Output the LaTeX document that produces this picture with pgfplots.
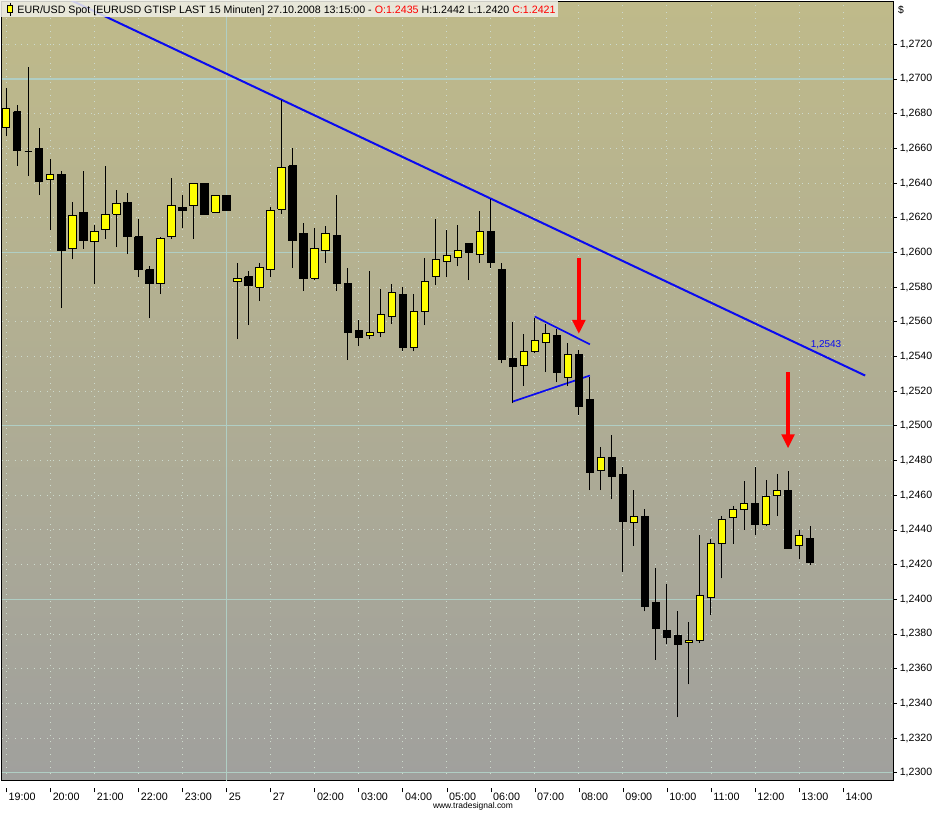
\documentclass[border=0pt]{standalone}
\usepackage{pgfplots}
\pgfplotsset{compat=1.18}
\usetikzlibrary{arrows.meta}
\usepackage{fontspec}
\setmainfont{Liberation Sans}
\definecolor{bgtop}{RGB}{191,186,138}
\definecolor{bgbot}{RGB}{160,160,157}
\definecolor{gridc}{RGB}{176,206,196}
\definecolor{dotc}{RGB}{205,218,205}
\definecolor{candleY}{RGB}{255,255,0}
\definecolor{hdr}{RGB}{240,240,232}
\definecolor{tlblue}{RGB}{10,10,240}
% index, open, high, low, close, fill
\newcommand{\cdl}[6]{%
  \pgfmathsetmacro\xa{#1-0.33}\pgfmathsetmacro\xb{#1+0.33}%
  \edef\tmp{\noexpand\addplot[draw=black, line width=1bp, forget plot] coordinates {(#1,#4) (#1,#3)};
  \noexpand\addplot[draw=black, fill=#6, line width=1bp, forget plot] coordinates {(\xa,#2) (\xb,#2) (\xb,#5) (\xa,#5) (\xa,#2)};}%
  \tmp}
\newcommand{\up}[5]{\cdl{#1}{#2}{#3}{#4}{#5}{candleY}}
\newcommand{\dn}[5]{\cdl{#1}{#2}{#3}{#4}{#5}{black}}
\newcommand{\xl}[1]{\rlap{\rule[8.5bp]{0.8bp}{4bp}}\hspace{2.6bp}#1}
\begin{document}
\begin{tikzpicture}
\useasboundingbox (0,0) rectangle (947bp,813bp);
\begin{axis}[
  at={(1.7bp,32.3bp)}, anchor=south west,
  scale only axis, width=891.6bp, height=779.1bp,
  xmin=-0.42, xmax=80.56, ymin=1.22954, ymax=1.27446,
  axis background/.style={top color=bgtop, bottom color=bgbot},
  axis line style={black, line width=1bp},
  ytick={1.2300,1.2320,1.2340,1.2360,1.2380,1.2400,1.2420,1.2440,1.2460,1.2480,1.2500,1.2520,1.2540,1.2560,1.2580,1.2600,1.2620,1.2640,1.2660,1.2680,1.2700,1.2720},
  yticklabel pos=right, ytick pos=right,
  yticklabel style={/pgf/number format/fixed, /pgf/number format/fixed zerofill, /pgf/number format/precision=4, /pgf/number format/use comma, /pgf/number format/1000 sep={}, /pgf/number format/assume math mode=true,
    font=\fontsize{10.6}{12}\selectfont, anchor=west, xshift=-0.5bp, text=black},
  ytick style={black, line width=0.8bp},
  tick align=outside,
  major tick length=3.5bp,
  xtick={0,4,...,76},
  xticklabels={\xl{19:00},\xl{20:00},\xl{21:00},\xl{22:00},\xl{23:00},\xl{25},\xl{27},\xl{02:00},\xl{03:00},\xl{04:00},\xl{05:00},\xl{06:00},\xl{07:00},\xl{08:00},\xl{09:00},\xl{10:00},\xl{11:00},\xl{12:00},\xl{13:00},\xl{14:00}},
  xtick pos=bottom,
  xtick style={draw=none},
  xticklabel style={font=\fontsize{10.8}{12}\selectfont, anchor=north west, inner sep=0pt, yshift=-4bp, xshift=-0.4bp, text=black},
  xmajorgrids, ymajorgrids,
  major grid style={draw=dotc, line width=0.9bp, dash pattern=on 0.9bp off 5.5bp},
  extra y ticks={1.23,1.24,1.25,1.26,1.27},
  extra y tick labels={},
  extra y tick style={major grid style={draw=gridc, line width=1.2bp, solid}, major tick length=0pt},
  extra x ticks={20},
  extra x tick labels={},
  extra x tick style={major grid style={draw=gridc, line width=1.2bp, solid}, major tick length=0pt},
]
% trend line
\addplot[draw=tlblue, line width=2bp] coordinates {(0,1.2763) (78,1.2529)};
% triangle
\addplot[draw=tlblue, line width=1.7bp] coordinates {(48,1.2563) (53,1.2547)};
\addplot[draw=tlblue, line width=1.7bp] coordinates {(46,1.2514) (53,1.2529)};
% candles
\up{0}{1.2672}{1.2695}{1.2667}{1.2683}
\dn{1}{1.2681}{1.2685}{1.2650}{1.2659}
\dn{2}{1.2658}{1.2707}{1.2644}{1.2658}
\dn{3}{1.2660}{1.2672}{1.2633}{1.2641}
\up{4}{1.2642}{1.2654}{1.2613}{1.2645}
\dn{5}{1.2645}{1.2647}{1.2568}{1.2601}
\up{6}{1.2602}{1.2629}{1.2596}{1.2621}
\dn{7}{1.2623}{1.2647}{1.2602}{1.2607}
\up{8}{1.2606}{1.2616}{1.2582}{1.2612}
\up{9}{1.2613}{1.2650}{1.2608}{1.2622}
\up{10}{1.2622}{1.2636}{1.2603}{1.2628}
\dn{11}{1.2629}{1.2634}{1.2599}{1.2609}
\dn{12}{1.2609}{1.2619}{1.2586}{1.2590}
\dn{13}{1.2590}{1.2592}{1.2562}{1.2582}
\up{14}{1.2582}{1.2609}{1.2576}{1.2608}
\up{15}{1.2609}{1.2643}{1.2608}{1.2627}
\dn{16}{1.2626}{1.2633}{1.2614}{1.2624}
\up{17}{1.2627}{1.2640}{1.2608}{1.2640}
\dn{18}{1.2640}{1.2640}{1.2622}{1.2622}
\up{19}{1.2623}{1.2633}{1.2623}{1.2633}
\dn{20}{1.2633}{1.2633}{1.2624}{1.2624}
\up{21}{1.2583}{1.2594}{1.2550}{1.2585}
\dn{22}{1.2586}{1.2589}{1.2558}{1.2581}
\up{23}{1.2580}{1.2594}{1.2572}{1.2591}
\up{24}{1.2590}{1.2626}{1.2586}{1.2624}
\up{25}{1.2625}{1.2688}{1.2622}{1.2649}
\dn{26}{1.2650}{1.2660}{1.2591}{1.2607}
\dn{27}{1.2611}{1.2617}{1.2578}{1.2585}
\up{28}{1.2585}{1.2614}{1.2584}{1.2602}
\up{29}{1.2601}{1.2615}{1.2594}{1.2611}
\dn{30}{1.2610}{1.2633}{1.2578}{1.2582}
\dn{31}{1.2582}{1.2591}{1.2538}{1.2554}
\dn{32}{1.2555}{1.2561}{1.2546}{1.2551}
\up{33}{1.2552}{1.2589}{1.2550}{1.2554}
\up{34}{1.2554}{1.2579}{1.2551}{1.2564}
\up{35}{1.2563}{1.2582}{1.2559}{1.2577}
\dn{36}{1.2576}{1.2580}{1.2543}{1.2545}
\up{37}{1.2545}{1.2576}{1.2543}{1.2566}
\up{38}{1.2566}{1.2597}{1.2558}{1.2583}
\up{39}{1.2586}{1.2619}{1.2581}{1.2596}
\up{40}{1.2595}{1.2613}{1.2586}{1.2598}
\up{41}{1.2597}{1.2616}{1.2592}{1.2601}
\dn{42}{1.2605}{1.2605}{1.2584}{1.2600}
\up{43}{1.2599}{1.2624}{1.2594}{1.2612}
\dn{44}{1.2612}{1.2631}{1.2591}{1.2594}
\dn{45}{1.2590}{1.2594}{1.2536}{1.2538}
\dn{46}{1.2539}{1.2560}{1.2513}{1.2534}
\up{47}{1.2535}{1.2553}{1.2523}{1.2543}
\up{48}{1.2543}{1.2562}{1.2542}{1.2549}
\up{49}{1.2548}{1.2559}{1.2531}{1.2553}
\dn{50}{1.2552}{1.2556}{1.2525}{1.2531}
\up{51}{1.2528}{1.2548}{1.2523}{1.2541}
\dn{52}{1.2541}{1.2544}{1.2506}{1.2511}
\dn{53}{1.2515}{1.2528}{1.2463}{1.2473}
\up{54}{1.2474}{1.2488}{1.2463}{1.2482}
\dn{55}{1.2482}{1.2495}{1.2458}{1.2471}
\dn{56}{1.2472}{1.2476}{1.2416}{1.2445}
\up{57}{1.2444}{1.2463}{1.2431}{1.2448}
\dn{58}{1.2448}{1.2452}{1.2393}{1.2396}
\dn{59}{1.2398}{1.2418}{1.2365}{1.2383}
\dn{60}{1.2382}{1.2409}{1.2374}{1.2378}
\dn{61}{1.2379}{1.2393}{1.2332}{1.2374}
\up{62}{1.2375}{1.2387}{1.2351}{1.2376}
\up{63}{1.2376}{1.2437}{1.2375}{1.2402}
\up{64}{1.2401}{1.2435}{1.2391}{1.2432}
\up{65}{1.2432}{1.2448}{1.2412}{1.2446}
\up{66}{1.2447}{1.2454}{1.2432}{1.2452}
\up{67}{1.2452}{1.2468}{1.2440}{1.2455}
\dn{68}{1.2455}{1.2476}{1.2437}{1.2443}
\up{69}{1.2443}{1.2469}{1.2442}{1.2459}
\up{70}{1.2460}{1.2472}{1.2448}{1.2463}
\dn{71}{1.2463}{1.2474}{1.2429}{1.2429}
\up{72}{1.2431}{1.2440}{1.2423}{1.2437}
\dn{73}{1.2435}{1.2442}{1.2420}{1.2421}
% red arrows
\addplot[draw=red, line width=4.6bp, -{Triangle[width=12.5bp,length=14bp]}] coordinates {(52,1.2597) (52,1.2553)};
\addplot[draw=red, line width=4.6bp, -{Triangle[width=12.5bp,length=14bp]}] coordinates {(71,1.2531) (71,1.2487)};
\node[text=tlblue, font=\fontsize{10}{12}\selectfont, inner sep=0pt] at (axis cs:74.45,1.2547) {1,2543};
\end{axis}
% header
\fill[hdr, fill opacity=0.85] (0,813bp) rectangle (558bp,795.7bp);
\draw[black, line width=1bp] (10bp,810.3bp) -- (10bp,797bp);
\filldraw[fill=candleY, draw=black, line width=1bp] (7.6bp,807bp) rectangle (12.4bp,800.6bp);
\node[anchor=base west, inner sep=0pt, font=\fontsize{10.7}{12}\selectfont] at (17.3bp,799.8bp)
 {EUR/USD Spot [EURUSD GTISP LAST 15 Minuten] 27.10.2008 13:15:00 - \textcolor{red}{O:1.2435} H:1.2442 L:1.2420 \textcolor{red}{C:1.2421}};
\node[anchor=base west, inner sep=0pt, font=\fontsize{10.4}{12}\selectfont] at (898bp,799.5bp) {\$};
\node[anchor=center, inner sep=0pt, font=\fontsize{8.5}{10}\selectfont] at (473bp,6.5bp) {www.tradesignal.com};
\end{tikzpicture}
\end{document}
